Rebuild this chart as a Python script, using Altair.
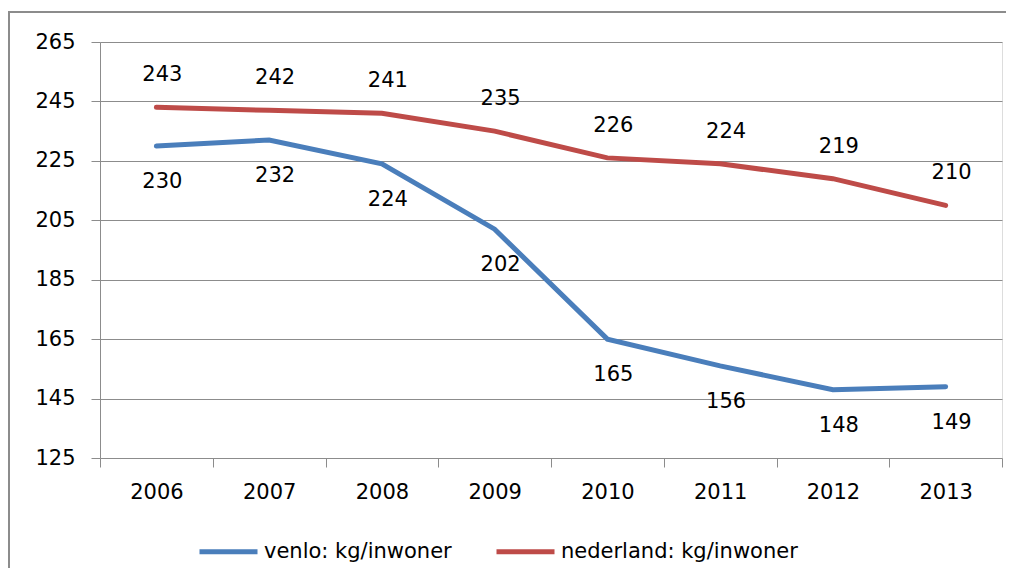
import altair as alt
import pandas as pd

years = ["2006", "2007", "2008", "2009", "2010", "2011", "2012", "2013"]
venlo = [230, 232, 224, 202, 165, 156, 148, 149]
nederland = [243, 242, 241, 235, 226, 224, 219, 210]
series_names = ["venlo: kg/inwoner", "nederland: kg/inwoner"]
y_ticks = [125, 145, 165, 185, 205, 225, 245, 265]

rows = []
for name, vals in zip(series_names, [venlo, nederland]):
    for yr, v in zip(years, vals):
        rows.append({"jaar": yr, "serie": name, "waarde": v})
df = pd.DataFrame(rows)

W, H = 902, 416
FONT = "DejaVu Sans"

x_enc = alt.X(
    "jaar:O",
    sort=years,
    bandPosition=0.5,
    scale=alt.Scale(type="band", paddingInner=0, paddingOuter=0),
    axis=alt.Axis(
        title=None, labelAngle=0, tickBand="extent", grid=False,
        domain=False, ticks=True, tickSize=9, tickColor="#8c8c8c",
        labelPadding=14, labelFontSize=21, labelFont=FONT, labelColor="#000000",
    ),
)
y_enc = alt.Y(
    "waarde:Q",
    scale=alt.Scale(domain=[125, 265], nice=False, zero=False),
    axis=alt.Axis(
        title=None, values=y_ticks, grid=True, gridColor="#8c8c8c", gridWidth=1,
        domain=True, domainColor="#8c8c8c", tickSize=9, tickColor="#8c8c8c",
        labelPadding=16, labelFontSize=21, labelFont=FONT, labelColor="#000000",
    ),
)
color_enc = alt.Color(
    "serie:N",
    sort=series_names,
    scale=alt.Scale(domain=series_names, range=["#4A7EBB", "#BE4B48"]),
    legend=alt.Legend(
        title=None, orient="none", direction="horizontal",
        legendX=97, legendY=478,
        symbolType="stroke", symbolSize=3364, symbolStrokeWidth=5,
        labelFontSize=21, labelFont=FONT, labelColor="#000000",
        columnPadding=34, labelOffset=4, labelLimit=0,
    ),
)

base = alt.Chart(df)
one = pd.DataFrame({"k": [0]})

border_top = alt.Chart(one).mark_rule(stroke="#8c8c8c", strokeWidth=2).encode(
    x=alt.value(-91), x2=alt.value(W + 4), y=alt.value(-30)
)
border_left = alt.Chart(one).mark_rule(stroke="#8c8c8c", strokeWidth=2).encode(
    x=alt.value(-91), y=alt.value(-31), y2=alt.value(H + 110)
)

lines = base.mark_line(strokeWidth=5, strokeCap="round").encode(
    x=x_enc, y=y_enc, color=color_enc
)

text_v = base.transform_filter(alt.datum.serie == series_names[0]).mark_text(
    fontSize=21, font=FONT, color="#000000", dy=36, dx=6, baseline="middle"
).encode(x=x_enc, y=y_enc, text="waarde:Q")

text_n = base.transform_filter(alt.datum.serie == series_names[1]).mark_text(
    fontSize=21, font=FONT, color="#000000", dy=-32, dx=6, baseline="middle"
).encode(x=x_enc, y=y_enc, text="waarde:Q")

chart = alt.layer(border_top, border_left, lines, text_v, text_n).properties(
    width=W, height=H,
    autosize=alt.AutoSizeParams(type="none"),
    padding={"left": 92, "top": 34, "right": 4, "bottom": 110},
).configure_view(stroke=None).configure(background="#ffffff")

chart.save("out.html", embed_options={"renderer": "svg", "actions": False})
